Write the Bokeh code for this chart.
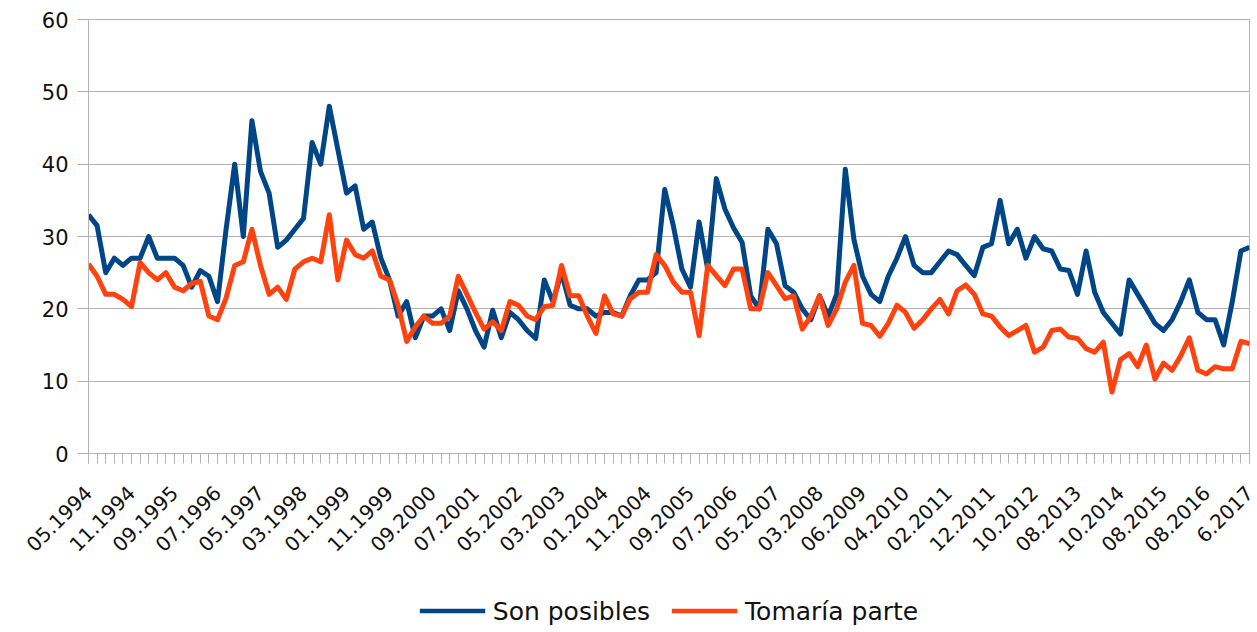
from bokeh.plotting import figure
from bokeh.layouts import column
from bokeh.models import Range1d, FixedTicker, Legend, LegendItem
from bokeh.embed import file_html
from bokeh.resources import INLINE

# Category labels shown on the x axis (every 5th survey)
tick_labels = ["05.1994", "11.1994", "09.1995", "07.1996", "05.1997", "03.1998",
               "01.1999", "11.1999", "09.2000", "07.2001", "05.2002", "03.2003",
               "01.2004", "11.2004", "09.2005", "07.2006", "05.2007", "03.2008",
               "06.2009", "04.2010", "02.2011", "12.2011", "10.2012", "08.2013",
               "10.2014", "08.2015", "08.2016", "6.2017"]
label_every = 5

son_posibles = [
    33, 31.5, 25, 27, 26, 27, 27, 30, 27, 27,
    27, 26, 23, 25.3, 24.5, 21, 31, 40, 30, 46,
    39, 36, 28.5, 29.5, 31, 32.5, 43, 40, 48, 42,
    36, 37, 31, 32, 27, 24, 19, 21, 16, 19,
    19, 20, 17, 22.5, 20, 17, 14.7, 19.8, 16, 19.5,
    18.5, 17, 15.9, 24, 21, 25, 20.5, 20, 20, 19,
    19.5, 19.5, 19, 21.8, 24, 24, 25, 36.5, 31.5, 25.5,
    23, 32, 25.5, 38, 33.8, 31.2, 29.2, 21.8, 20, 31,
    29, 23.2, 22.3, 20, 18.5, 21.8, 19, 22, 39.3, 29.6,
    24.5, 22, 21, 24.5, 27, 30, 26, 25, 25, 26.5,
    28, 27.5, 26, 24.6, 28.5, 29, 35, 29, 31, 27,
    30, 28.3, 28, 25.5, 25.3, 22, 28, 22.3, 19.5, 18,
    16.5, 24, 22, 20, 18, 17, 18.5, 21, 24, 19.5,
    18.5, 18.5, 15, 21, 28, 28.5,
]

tomaria_parte = [
    26.2, 24.5, 22, 22, 21.3, 20.3, 26.4, 25, 24, 25,
    23, 22.5, 23.5, 23.8, 19, 18.5, 21.5, 26, 26.5, 31,
    26, 22, 23, 21.3, 25.5, 26.5, 27, 26.5, 33, 24,
    29.5, 27.5, 27, 28, 24.5, 24, 20.5, 15.5, 17.5, 19,
    18, 18, 19, 24.5, 22, 19.5, 17.2, 18.2, 17, 21,
    20.5, 19, 18.5, 20.3, 20.5, 26, 21.8, 21.8, 19, 16.6,
    21.8, 19.3, 19, 21.4, 22.3, 22.3, 27.5, 26, 23.7, 22.3,
    22.3, 16.3, 26, 24.6, 23.2, 25.5, 25.5, 20, 20, 25,
    23.2, 21.4, 21.8, 17.2, 19, 21.8, 17.7, 20, 23.7, 26,
    18, 17.7, 16.2, 18, 20.5, 19.5, 17.3, 18.5, 20, 21.3,
    19.3, 22.5, 23.3, 22, 19.3, 19, 17.5, 16.3, 17, 17.7,
    14, 14.7, 17, 17.2, 16.1, 15.9, 14.5, 14, 15.4, 8.5,
    13, 13.8, 12, 15, 10.3, 12.5, 11.5, 13.5, 16, 11.5,
    11, 12, 11.7, 11.7, 15.5, 15.2,
]

series_names = ["Son posibles", "Tomaría parte"]
series_colors = ["#004586", "#ff420e"]

n = len(son_posibles)
idx = list(range(n))

p = figure(width=1257, height=590, output_backend="svg", toolbar_location=None,
           x_range=Range1d(0, n - 1), y_range=Range1d(0, 60),
           min_border_left=88, min_border_right=8, min_border_top=19,
           min_border_bottom=137)
p.background_fill_color = "white"
p.outline_line_color = "#b3b3b3"
p.outline_line_width = 1

# grid
p.xgrid.grid_line_color = None
p.ygrid.grid_line_color = "#b3b3b3"
p.ygrid.grid_line_width = 1

# y axis
p.yaxis.ticker = FixedTicker(ticks=[0, 10, 20, 30, 40, 50, 60])
p.yaxis.axis_line_color = "#b3b3b3"
p.yaxis.major_tick_line_color = "#b3b3b3"
p.yaxis.major_tick_out = 11
p.yaxis.major_tick_in = 0
p.yaxis.minor_tick_line_color = None
p.yaxis.major_label_text_font = "DejaVu Sans"
p.yaxis.major_label_text_font_size = "21px"
p.yaxis.major_label_text_color = "#111111"
p.yaxis.major_label_standoff = 9

# x axis
major_pos = idx[::label_every]
p.xaxis.ticker = FixedTicker(ticks=major_pos, minor_ticks=idx)
p.xaxis.major_label_overrides = {pos: lab for pos, lab in zip(major_pos, tick_labels)}
p.xaxis.major_label_orientation = 0.785398
p.xaxis.axis_line_color = "#b3b3b3"
p.xaxis.major_tick_line_color = "#b3b3b3"
p.xaxis.minor_tick_line_color = "#b3b3b3"
p.xaxis.major_tick_out = 10
p.xaxis.major_tick_in = 0
p.xaxis.minor_tick_out = 10
p.xaxis.minor_tick_in = 0
p.xaxis.major_label_text_font = "DejaVu Sans"
p.xaxis.major_label_text_font_size = "20px"
p.xaxis.major_label_text_color = "#111111"
p.xaxis.major_label_standoff = 26

p.line(idx, son_posibles, line_color=series_colors[0], line_width=5, line_join="round")
p.line(idx, tomaria_parte, line_color=series_colors[1], line_width=5, line_join="round")

# legend strip below the chart
leg = figure(width=1257, height=41, output_backend="svg", toolbar_location=None,
             x_axis_location=None, y_axis_location=None,
             x_range=Range1d(0, n - 1), y_range=Range1d(0, 60),
             min_border_left=52, min_border_right=0, min_border_top=0,
             min_border_bottom=0)
leg.outline_line_color = None
leg.xgrid.grid_line_color = None
leg.ygrid.grid_line_color = None
l1 = leg.line(idx, son_posibles, line_color=series_colors[0], line_width=4.5, visible=False)
l2 = leg.line(idx, tomaria_parte, line_color=series_colors[1], line_width=4.5, visible=False)

legend = Legend(items=[LegendItem(label=series_names[0], renderers=[l1]),
                       LegendItem(label=series_names[1], renderers=[l2])],
                orientation="horizontal", location="center",
                glyph_width=66, glyph_height=22, label_standoff=8, spacing=21,
                padding=0, margin=0, border_line_alpha=0, background_fill_alpha=0,
                label_text_font="DejaVu Sans", label_text_font_size="25px",
                label_text_color="#111111")
leg.add_layout(legend)

layout = column(p, leg, spacing=0)
open("out.html", "w").write(file_html(layout, INLINE))
